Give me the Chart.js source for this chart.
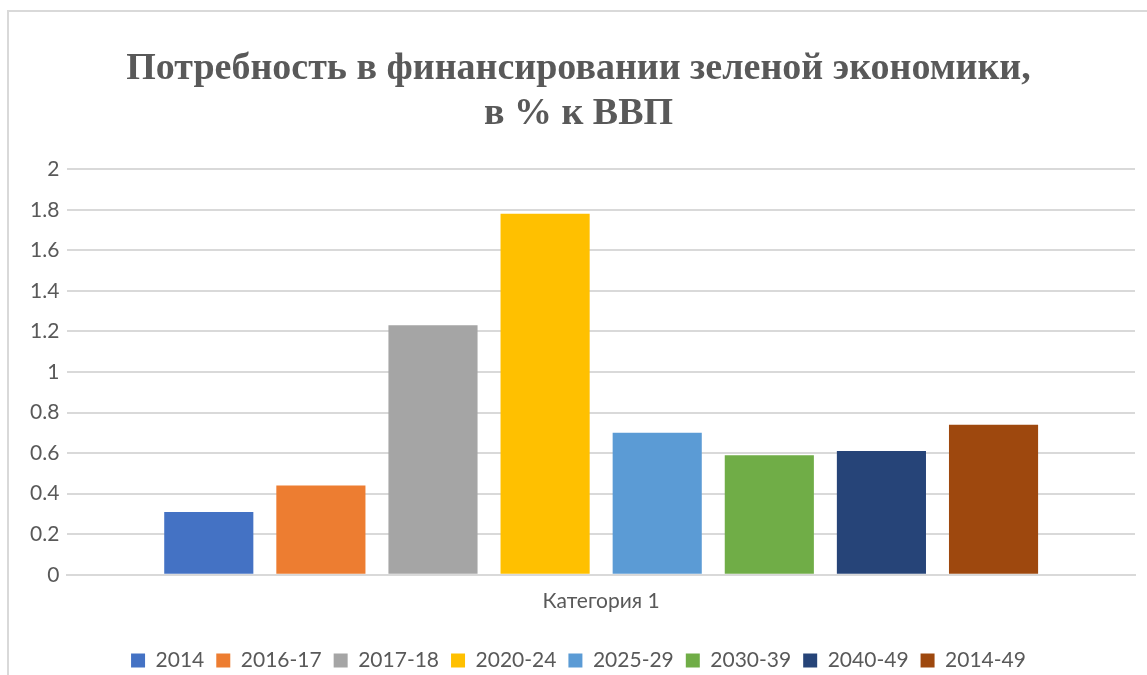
<!DOCTYPE html>
<html lang="ru">
<head>
<meta charset="utf-8">
<title>Потребность в финансировании зеленой экономики</title>
<script src="https://cdn.jsdelivr.net/npm/chart.js@4/dist/chart.umd.min.js"></script>
<style>
  html, body { margin: 0; padding: 0; background: #fff; }
  #wrap { position: relative; width: 1147px; height: 675px; overflow: hidden; }
  #frame {
    position: absolute; left: 7px; top: 10px; width: 1160px; height: 700px;
    border: 2px solid #d9d9d9; box-sizing: border-box;
  }
  canvas { position: absolute; left: 0; top: 0; }
</style>
</head>
<body>
<div id="wrap">
  <div id="frame"></div>
  <canvas id="chart" width="1147" height="675"></canvas>
</div>
<script>
// Periods and financing need, % of GDP
const categories = ["Категория 1"];
const periods = ["2014", "2016-17", "2017-18", "2020-24", "2025-29", "2030-39", "2040-49", "2014-49"];
const values = [0.31, 0.44, 1.23, 1.78, 0.70, 0.59, 0.61, 0.74];
const colors = ["#4472c4", "#ed7d31", "#a5a5a5", "#ffc000", "#5b9bd5", "#70ad47", "#264478", "#9e480e"];
const yTicks = [0, 0.2, 0.4, 0.6, 0.8, 1, 1.2, 1.4, 1.6, 1.8, 2];

const textColor = "#595959";
const gridColor = "#d9d9d9";
const labelFont = { family: "Lato, sans-serif", size: 21 };

const datasets = periods.map((p, i) => ({
  label: p,
  data: [values[i]],
  backgroundColor: colors[i],
  borderWidth: 0,
  categoryPercentage: 0.84,
  barPercentage: 0.795
}));

new Chart(document.getElementById("chart").getContext("2d"), {
  type: "bar",
  data: { labels: categories, datasets: datasets },
  options: {
    responsive: false,
    animation: false,
    layout: { padding: { left: 22, right: 12, top: 46, bottom: -6 } },
    plugins: {
      title: {
        display: true,
        text: ["Потребность в финансировании зеленой экономики,", "в % к ВВП"],
        color: textColor,
        font: { family: "'Liberation Serif', serif", size: 38, weight: "bold" },
        lineHeight: 1.0,
        padding: { top: 0, bottom: 32 }
      },
      legend: {
        position: "bottom",
        labels: {
          color: textColor,
          font: labelFont,
          boxWidth: 14,
          boxHeight: 14,
          padding: 12
        }
      },
      tooltip: { enabled: false }
    },
    scales: {
      x: {
        grid: { display: false },
        border: { color: gridColor, width: 2 },
        ticks: { color: textColor, font: labelFont, padding: 6 },
        // extra room between the category label and the legend
        afterFit: scale => { scale.height += 18; }
      },
      y: {
        min: 0,
        max: 2,
        afterBuildTicks: axis => { axis.ticks = yTicks.map(v => ({ value: v })); },
        border: { display: false },
        grid: { color: gridColor, lineWidth: 2, drawTicks: false },
        ticks: {
          color: textColor,
          font: labelFont,
          padding: 8,
          callback: v => String(+v.toFixed(1))
        }
      }
    }
  }
});
</script>
</body>
</html>
